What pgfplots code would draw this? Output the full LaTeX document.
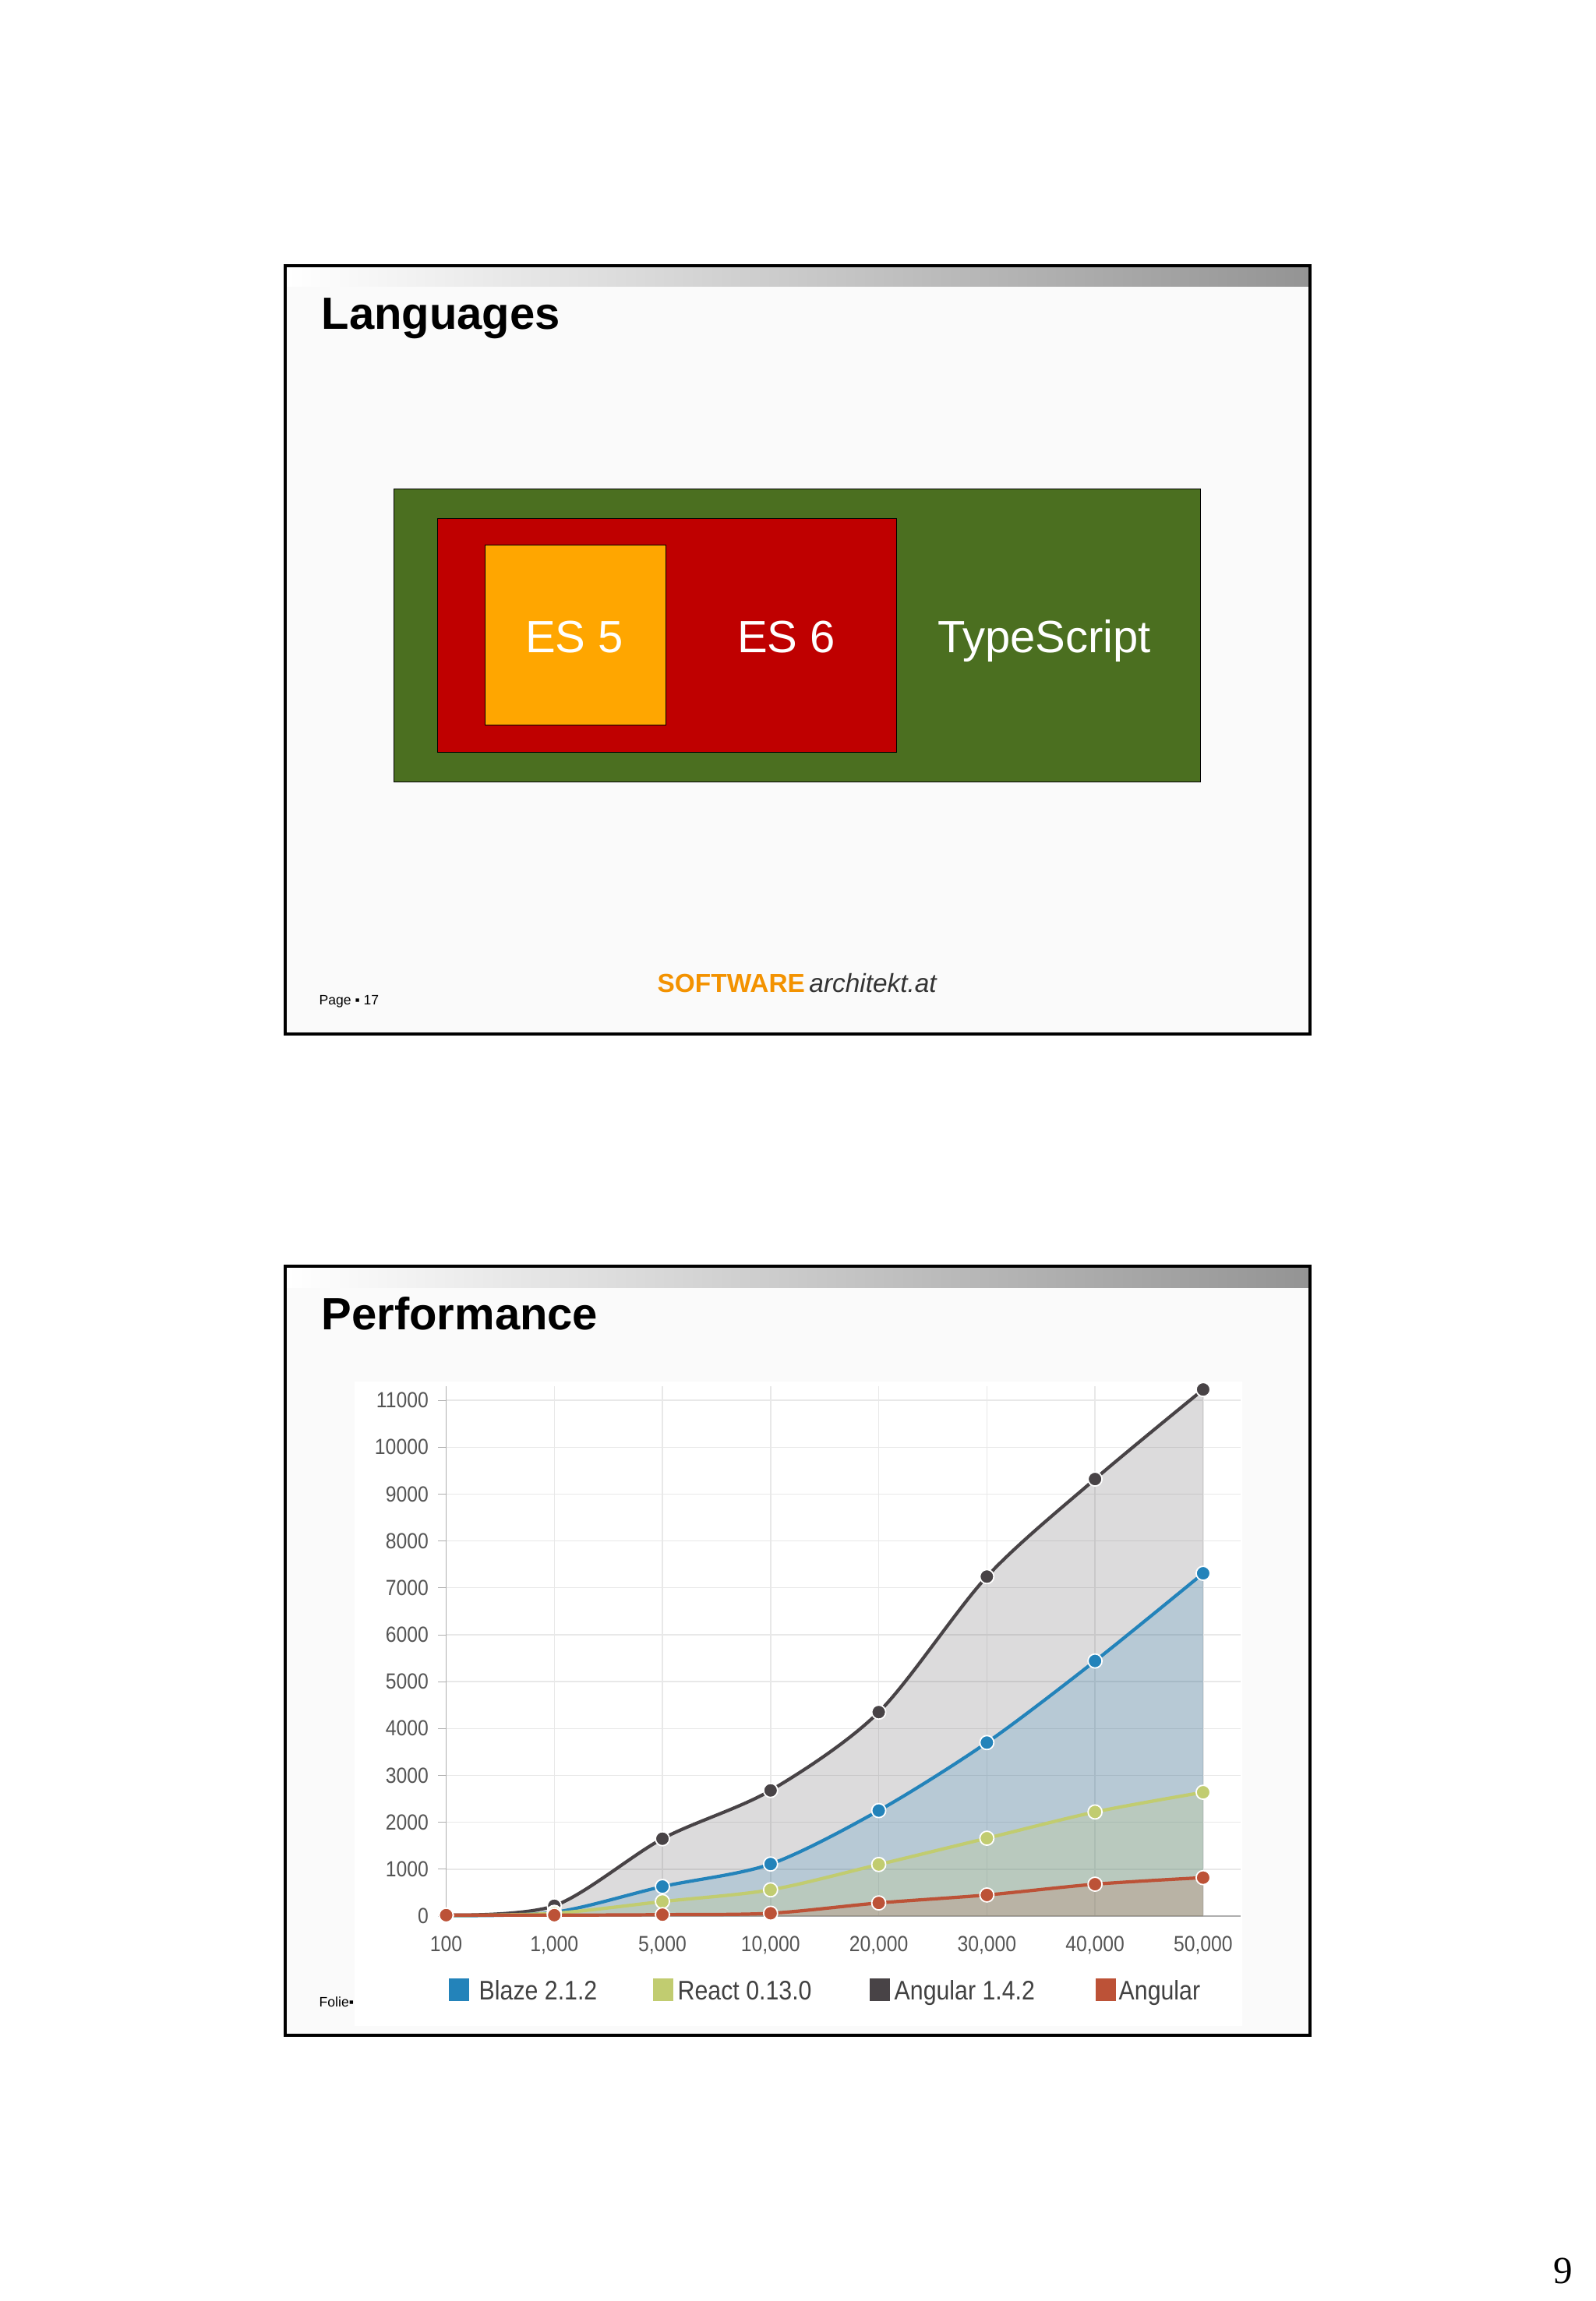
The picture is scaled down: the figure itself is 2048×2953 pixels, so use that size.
\documentclass[border=0pt]{standalone}
\usepackage{pgfplots}
\pgfplotsset{compat=1.18}
\usepackage{fontspec}
\setmainfont{Liberation Sans}
\newfontfamily\chartfont[FakeStretch=0.88]{Liberation Sans}
\newfontfamily\serifnum{Liberation Serif}
\definecolor{blazeC}{RGB}{35,131,186}
\definecolor{reactC}{RGB}{193,204,112}
\definecolor{angOldC}{RGB}{72,67,70}
\definecolor{angC}{RGB}{188,82,55}
\definecolor{gridC}{RGB}{232,232,232}
\definecolor{tickC}{RGB}{85,85,85}
\definecolor{legC}{RGB}{65,65,65}
\definecolor{tsGreen}{RGB}{75,111,32}
\definecolor{esRed}{RGB}{191,0,0}
\definecolor{esOrange}{RGB}{255,166,0}
\definecolor{swOrange}{RGB}{243,146,0}
\definecolor{barR}{RGB}{148,148,148}
\definecolor{slidebg}{RGB}{250,250,250}
\begin{document}
\begin{tikzpicture}[x=0.1mm,y=0.1mm]
\path[use as bounding box, fill=white] (0,0) rectangle (2048,-2953);
% ---------- slide 1 ----------
\fill[slidebg] (366,-341) rectangle (1681,-1327);
\shade[left color=white, right color=barR] (368,-343) rectangle (1679,-367);
\node[anchor=base west, inner sep=0pt, font=\bfseries\fontsize{16.5}{18}\selectfont] at (412,-422) {Languages};
\fill[tsGreen, draw=black, line width=0.2pt] (505,-627) rectangle (1540,-1003);
\fill[esRed, draw=black, line width=0.2pt] (561,-665) rectangle (1150,-965);
\fill[esOrange, draw=black, line width=0.2pt] (622,-699) rectangle (854,-930);
\node[anchor=base, inner sep=0pt, text=white, font=\fontsize{16.5}{18}\selectfont] at (737,-837) {ES 5};
\node[anchor=base, inner sep=0pt, text=white, font=\fontsize{16.5}{18}\selectfont] at (1009,-837) {ES 6};
\node[anchor=base, inner sep=0pt, text=white, font=\fontsize{16.5}{18}\selectfont] at (1340,-837) {TypeScript};
\node[anchor=base west, inner sep=0pt, font=\fontsize{9.5}{11}\selectfont] at (843,-1273) {\textcolor{swOrange}{\bfseries SOFTWARE}\,\textcolor{black!80}{\itshape architekt.at}};
\node[anchor=base west, inner sep=0pt, font=\fontsize{5}{6}\selectfont] at (409,-1289) {Page ▪ 17};
\draw[line width=0.35mm] (366,-341) rectangle (1681,-1327);
% ---------- slide 2 ----------
\fill[slidebg] (366,-1625) rectangle (1681,-2612);
\shade[left color=white, right color=barR] (368,-1627) rectangle (1679,-1652);
\node[anchor=base west, inner sep=0pt, font=\bfseries\fontsize{16.5}{18}\selectfont] at (412,-1706) {Performance};
\fill[white] (455,-1773) rectangle (1594,-2600);
\begin{axis}[
  at={(57.25mm,-245.9mm)}, anchor=south west,
  scale only axis, width=102mm, height=68mm,
  xmin=0, xmax=7.35, ymin=0, ymax=11300,
  clip=false,
  axis lines*=left,
  axis line style={draw=gridC!75!black},
  scaled y ticks=false,
  xtick={0,1,2,3,4,5,6,7},
  xticklabels={100,{1,000},{5,000},{10,000},{20,000},{30,000},{40,000},{50,000}},
  ytick={0,1000,2000,3000,4000,5000,6000,7000,8000,9000,10000,11000},
  yticklabels={0,1000,2000,3000,4000,5000,6000,7000,8000,9000,10000,11000},
  grid=major, major grid style={draw=gridC, line width=0.4pt},
  tick align=outside, major tick length=1mm,
  xtick style={draw=none}, ytick style={draw=gridC!75!black},
  tick label style={font=\chartfont\fontsize{8}{9}\selectfont, text=tickC},
  /pgf/number format/assume math mode=true,
  xticklabel style={anchor=base, yshift=-3.55mm},
  yticklabel style={anchor=east, inner sep=0pt, xshift=-1.2mm},
]
% areas
\addplot[smooth, draw=none, fill=angOldC, fill opacity=0.19, forget plot] coordinates {(0,20) (1,220) (2,1650) (3,2680) (4,4350) (5,7240) (6,9320) (7,11230)} \closedcycle;
\addplot[smooth, draw=none, fill=blazeC, fill opacity=0.2, forget plot] coordinates {(0,10) (1,80) (2,630) (3,1110) (4,2250) (5,3700) (6,5440) (7,7310)} \closedcycle;
\addplot[smooth, draw=none, fill=reactC, fill opacity=0.22, forget plot] coordinates {(0,10) (1,60) (2,310) (3,560) (4,1100) (5,1660) (6,2220) (7,2640)} \closedcycle;
\addplot[smooth, draw=none, fill=angC, fill opacity=0.18, forget plot] coordinates {(0,20) (1,20) (2,30) (3,60) (4,280) (5,450) (6,680) (7,820)} \closedcycle;
% lines
\addplot[smooth, color=angOldC, line width=1.2pt, mark=*, mark size=0.9mm, mark options={fill=angOldC, draw=white, line width=0.5pt}] coordinates {(0,20) (1,220) (2,1650) (3,2680) (4,4350) (5,7240) (6,9320) (7,11230)};
\addplot[smooth, color=blazeC, line width=1.2pt, mark=*, mark size=0.9mm, mark options={fill=blazeC, draw=white, line width=0.5pt}] coordinates {(0,10) (1,80) (2,630) (3,1110) (4,2250) (5,3700) (6,5440) (7,7310)};
\addplot[smooth, color=reactC, line width=1.2pt, mark=*, mark size=0.9mm, mark options={fill=reactC, draw=white, line width=0.5pt}] coordinates {(0,10) (1,60) (2,310) (3,560) (4,1100) (5,1660) (6,2220) (7,2640)};
\addplot[smooth, color=angC, line width=1.2pt, mark=*, mark size=0.9mm, mark options={fill=angC, draw=white, line width=0.5pt}] coordinates {(0,20) (1,20) (2,30) (3,60) (4,280) (5,450) (6,680) (7,820)};
\end{axis}
% legend
\fill[blazeC] (576,-2539) rectangle (602,-2568);
\node[anchor=base west, inner sep=0pt, text=legC, font=\chartfont\fontsize{9.8}{11}\selectfont] at (614,-2566) {Blaze 2.1.2};
\fill[reactC] (838,-2539) rectangle (864,-2568);
\node[anchor=base west, inner sep=0pt, text=legC, font=\chartfont\fontsize{9.8}{11}\selectfont] at (869,-2566) {React 0.13.0};
\fill[angOldC] (1116,-2539) rectangle (1142,-2568);
\node[anchor=base west, inner sep=0pt, text=legC, font=\chartfont\fontsize{9.8}{11}\selectfont] at (1147,-2566) {Angular 1.4.2};
\fill[angC] (1406,-2539) rectangle (1432,-2568);
\node[anchor=base west, inner sep=0pt, text=legC, font=\chartfont\fontsize{9.8}{11}\selectfont] at (1435,-2566) {Angular};
\node[anchor=base west, inner sep=0pt, font=\fontsize{5}{6}\selectfont] at (409,-2575) {Folie▪};
\draw[line width=0.35mm] (366,-1625) rectangle (1681,-2612);
% page number
\node[anchor=base, inner sep=0pt, font=\serifnum\fontsize{14}{16}\selectfont] at (2006,-2930) {9};
\end{tikzpicture}
\end{document}
